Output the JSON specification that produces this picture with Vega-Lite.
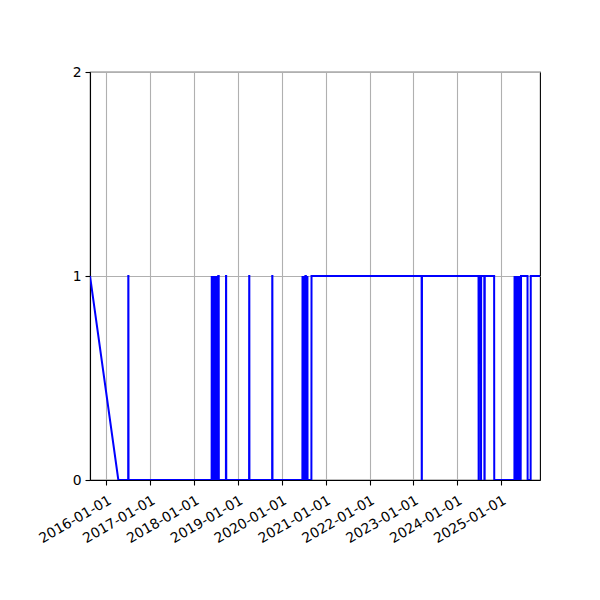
{
  "$schema": "https://vega.github.io/schema/vega-lite/v6.json",
  "autosize": {"type": "none"},
  "padding": {"left": 90, "top": 72, "right": 60, "bottom": 120},
  "width": 450,
  "height": 408,
  "background": "white",
  "data": {
    "values": [
      {"date": "2015-08-18", "value": 1},
      {"date": "2016-04-10", "value": 0},
      {"date": "2016-07-01", "value": 0},
      {"date": "2016-07-02", "value": 1},
      {"date": "2016-07-03", "value": 1},
      {"date": "2016-07-04", "value": 0},
      {"date": "2018-05-27", "value": 0},
      {"date": "2018-05-28", "value": 1},
      {"date": "2018-05-31", "value": 0},
      {"date": "2018-06-03", "value": 1},
      {"date": "2018-06-06", "value": 0},
      {"date": "2018-06-09", "value": 1},
      {"date": "2018-06-12", "value": 0},
      {"date": "2018-06-15", "value": 1},
      {"date": "2018-06-18", "value": 0},
      {"date": "2018-06-21", "value": 1},
      {"date": "2018-06-24", "value": 0},
      {"date": "2018-06-27", "value": 1},
      {"date": "2018-06-30", "value": 0},
      {"date": "2018-07-03", "value": 1},
      {"date": "2018-07-06", "value": 0},
      {"date": "2018-07-09", "value": 1},
      {"date": "2018-07-12", "value": 0},
      {"date": "2018-07-15", "value": 1},
      {"date": "2018-07-18", "value": 0},
      {"date": "2018-07-21", "value": 1},
      {"date": "2018-07-25", "value": 1},
      {"date": "2018-07-26", "value": 0},
      {"date": "2018-09-23", "value": 0},
      {"date": "2018-09-24", "value": 1},
      {"date": "2018-09-25", "value": 1},
      {"date": "2018-09-26", "value": 0},
      {"date": "2019-04-04", "value": 0},
      {"date": "2019-04-05", "value": 1},
      {"date": "2019-04-06", "value": 1},
      {"date": "2019-04-07", "value": 0},
      {"date": "2019-10-13", "value": 0},
      {"date": "2019-10-14", "value": 1},
      {"date": "2019-10-15", "value": 1},
      {"date": "2019-10-16", "value": 0},
      {"date": "2020-06-21", "value": 0},
      {"date": "2020-06-22", "value": 1},
      {"date": "2020-06-25", "value": 0},
      {"date": "2020-06-28", "value": 1},
      {"date": "2020-07-01", "value": 0},
      {"date": "2020-07-04", "value": 1},
      {"date": "2020-07-07", "value": 0},
      {"date": "2020-07-10", "value": 1},
      {"date": "2020-07-13", "value": 0},
      {"date": "2020-07-16", "value": 1},
      {"date": "2020-07-20", "value": 1},
      {"date": "2020-07-21", "value": 0},
      {"date": "2020-08-01", "value": 0},
      {"date": "2020-08-02", "value": 1},
      {"date": "2020-08-03", "value": 0},
      {"date": "2020-09-04", "value": 0},
      {"date": "2020-09-05", "value": 1},
      {"date": "2023-03-11", "value": 1},
      {"date": "2023-03-12", "value": 0},
      {"date": "2023-03-13", "value": 0},
      {"date": "2023-03-14", "value": 1},
      {"date": "2024-06-27", "value": 1},
      {"date": "2024-06-28", "value": 0},
      {"date": "2024-06-30", "value": 0},
      {"date": "2024-07-01", "value": 1},
      {"date": "2024-07-17", "value": 1},
      {"date": "2024-07-18", "value": 0},
      {"date": "2024-07-19", "value": 1},
      {"date": "2024-08-14", "value": 1},
      {"date": "2024-08-15", "value": 0},
      {"date": "2024-08-17", "value": 0},
      {"date": "2024-08-18", "value": 1},
      {"date": "2024-11-04", "value": 1},
      {"date": "2024-11-05", "value": 0},
      {"date": "2025-04-22", "value": 0},
      {"date": "2025-04-23", "value": 1},
      {"date": "2025-04-26", "value": 0},
      {"date": "2025-04-29", "value": 1},
      {"date": "2025-05-02", "value": 0},
      {"date": "2025-05-05", "value": 1},
      {"date": "2025-05-08", "value": 0},
      {"date": "2025-05-11", "value": 1},
      {"date": "2025-05-14", "value": 0},
      {"date": "2025-05-17", "value": 1},
      {"date": "2025-05-20", "value": 0},
      {"date": "2025-05-23", "value": 1},
      {"date": "2025-05-26", "value": 0},
      {"date": "2025-05-29", "value": 1},
      {"date": "2025-06-01", "value": 0},
      {"date": "2025-06-04", "value": 1},
      {"date": "2025-06-07", "value": 0},
      {"date": "2025-06-10", "value": 1},
      {"date": "2025-06-13", "value": 0},
      {"date": "2025-06-16", "value": 1},
      {"date": "2025-08-09", "value": 1},
      {"date": "2025-08-10", "value": 0},
      {"date": "2025-09-04", "value": 0},
      {"date": "2025-09-05", "value": 1},
      {"date": "2025-11-21", "value": 1}
    ]
  },
  "mark": {"type": "line", "color": "#0000ff", "strokeWidth": 2, "clip": true},
  "encoding": {
    "x": {
      "field": "date",
      "type": "temporal",
      "title": null,
      "scale": {
        "type": "utc",
        "domain": [
          {"year": 2015, "month": 8, "date": 18, "utc": true},
          {"year": 2025, "month": 11, "date": 21, "utc": true}
        ],
        "nice": false
      },
      "axis": {
        "values": [
          {"year": 2016, "month": 1, "date": 1, "utc": true},
          {"year": 2017, "month": 1, "date": 1, "utc": true},
          {"year": 2018, "month": 1, "date": 1, "utc": true},
          {"year": 2019, "month": 1, "date": 1, "utc": true},
          {"year": 2020, "month": 1, "date": 1, "utc": true},
          {"year": 2021, "month": 1, "date": 1, "utc": true},
          {"year": 2022, "month": 1, "date": 1, "utc": true},
          {"year": 2023, "month": 1, "date": 1, "utc": true},
          {"year": 2024, "month": 1, "date": 1, "utc": true},
          {"year": 2025, "month": 1, "date": 1, "utc": true}
        ],
        "format": "%Y-%m-%d",
        "labelAngle": -30,
        "labelAlign": "right",
        "labelBaseline": "top",
        "labelPadding": 8,
        "labelDx": -3,
        "labelFlush": false,
        "labelOverlap": false
      }
    },
    "y": {
      "field": "value",
      "type": "quantitative",
      "title": null,
      "scale": {"domain": [0, 2], "nice": false, "zero": false},
      "axis": {"tickCount": 2, "format": "d", "labelPadding": 4, "labelOverlap": false, "labelFlush": false}
    }
  },
  "config": {
    "view": {"stroke": "black", "strokeWidth": 1.1},
    "axis": {
      "domainColor": "black",
      "domainWidth": 1.1,
      "tickColor": "black",
      "tickWidth": 1.1,
      "tickSize": 5,
      "labelFont": "DejaVu Sans",
      "labelFontSize": 13.9,
      "labelColor": "black",
      "grid": true,
      "gridColor": "#b0b0b0",
      "gridWidth": 1.1,
      "gridOpacity": 1
    }
  }
}
